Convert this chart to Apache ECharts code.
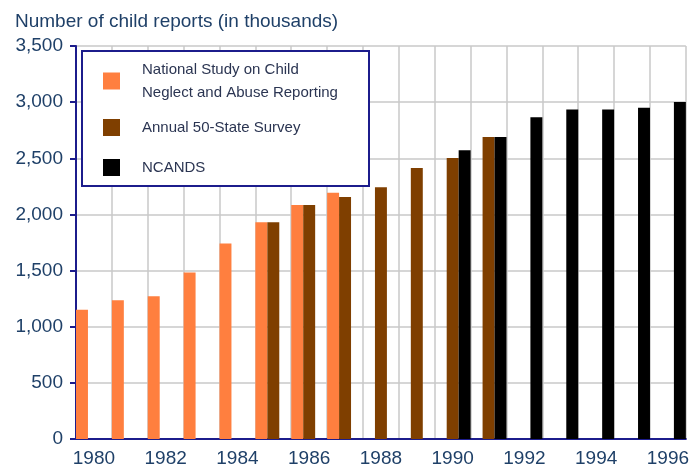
<!DOCTYPE html>
<html>
<head>
<meta charset="utf-8">
<script src="https://cdn.jsdelivr.net/npm/echarts@6/dist/echarts.min.js"></script>
<style>
  html, body { margin: 0; padding: 0; background: #fff; }
  #chart { width: 692px; height: 468px; }
</style>
</head>
<body>
<div id="chart"></div>
<script>
// years 1980..1996
var years = ['1980', '1981', '1982', '1983', '1984', '1985', '1986', '1987', '1988',
    '1989', '1990', '1991', '1992', '1993', '1994', '1995', '1996'];

// reports in thousands
var nationalStudy = [1152, 1235, 1271, 1482, 1740, 1930, 2084, 2192, null,
    null, null, null, null, null, null, null, null];
var fiftyState = [null, null, null, null, null, 1930, 2084, 2155, 2241,
    2413, 2503, 2690, null, null, null, null, null];
var ncands = [null, null, null, null, null, null, null, null, null,
    null, 2571, 2690, 2865, 2934, 2934, 2951, 3001];

var yTicks = [0, 500, 1000, 1500, 2000, 2500, 3000, 3500];

var names = ['National Study on Child\nNeglect and Abuse Reporting', 'Annual 50-State Survey', 'NCANDS'];
var colors = ['#ff7f3f', '#7f3f00', '#000000'];

var navy = '#1c1c8c';
var textBlue = '#1f4068';
var font = '"Liberation Sans", Arial, sans-serif';

var chart = echarts.init(document.getElementById('chart'));

function legendAt(name, top) {
    return {
        data: [name],
        left: 103,
        top: top,
        z: 20,
        padding: 0,
        orient: 'vertical',
        icon: 'rect',
        itemWidth: 17,
        itemHeight: 17,
        selectedMode: false,
        textStyle: {
            fontFamily: font,
            fontSize: 15,
            lineHeight: 23,
            color: '#2b3552',
            padding: [0, 0, 0, 17]
        }
    };
}

var option = {
    animation: false,
    title: {
        text: 'Number of child reports (in thousands)',
        left: 10,
        top: 7,
        textStyle: {
            fontFamily: font,
            fontSize: 19,
            fontWeight: 'normal',
            color: textBlue
        }
    },
    legend: [
        legendAt(names[0], 58),
        legendAt(names[1], 116),
        legendAt(names[2], 156)
    ],
    grid: {
        left: 76,
        right: 4,
        top: 46,
        bottom: 29
    },
    xAxis: {
        type: 'category',
        data: years,
        axisLine: { lineStyle: { color: navy, width: 2 } },
        axisTick: { interval: 0, length: 7, lineStyle: { color: navy, width: 2 } },
        axisLabel: {
            interval: 1,
            margin: 10,
            fontFamily: font,
            fontSize: 19,
            color: textBlue
        },
        splitLine: { show: true, interval: 0, lineStyle: { color: '#c8c8c8', width: 1.5 } }
    },
    yAxis: {
        type: 'value',
        min: yTicks[0],
        max: yTicks[yTicks.length - 1],
        interval: 500,
        axisLine: { show: true, lineStyle: { color: navy, width: 2 } },
        axisTick: { show: true, length: 6, lineStyle: { color: navy, width: 2 } },
        axisLabel: {
            margin: 13,
            fontFamily: font,
            fontSize: 19,
            color: textBlue,
            formatter: function (v) { return v.toLocaleString('en-US'); }
        },
        splitLine: { lineStyle: { color: '#c8c8c8', width: 1.5 } }
    },
    graphic: [{
        type: 'rect',
        z: 5,
        shape: { x: 82, y: 51, width: 287, height: 135 },
        style: { fill: '#fff', stroke: navy, lineWidth: 2 }
    }],
    series: [
        { name: names[0], type: 'bar', data: nationalStudy, itemStyle: { color: colors[0] },
          barGap: '0%', barCategoryGap: '0%' },
        { name: names[1], type: 'bar', data: fiftyState, itemStyle: { color: colors[1] },
          barGap: '0%', barCategoryGap: '0%' },
        { name: names[2], type: 'bar', data: ncands, itemStyle: { color: colors[2] },
          barGap: '0%', barCategoryGap: '0%' }
    ]
};

chart.setOption(option);
</script>
</body>
</html>
